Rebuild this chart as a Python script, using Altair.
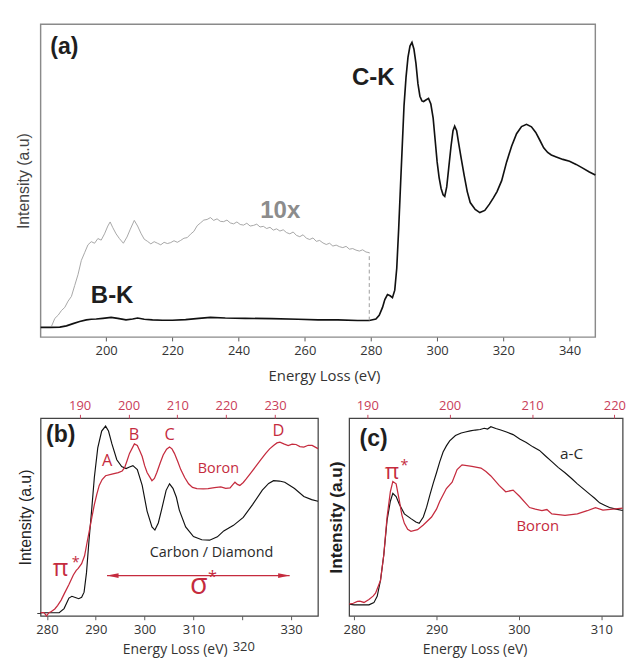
import altair as alt
import pandas as pd

# ---------------- panel (a): survey spectrum ----------------
A_XDOM = [180.2, 347.8]
A_TICKS = [200, 220, 240, 260, 280, 300, 320, 340]
A_E = [180.2, 183, 186, 188, 190, 192, 194, 195.5, 197, 199, 201.5, 203.5, 206, 208, 209.5,
       211.5, 214, 217, 220, 224, 228, 231.5, 236, 242, 250, 258, 264, 270, 276, 279.5,
       281.5, 282.5, 283.5, 284.2, 285, 285.8, 286.5, 287.2, 287.8, 288.4, 289, 289.5, 290,
       290.6, 291.2, 291.8, 292.4, 293, 293.6, 294.2, 294.8, 295.4, 295.9, 296.6, 297.4,
       298.1, 298.8, 299.4, 300, 300.6, 301.2, 301.8, 302.3, 302.9, 303.5, 304.2, 304.8,
       305.3, 305.9, 306.5, 307.3, 308.2, 309.1, 310, 311.5, 312.9, 314.4, 315.8, 317, 318.1,
       319.5, 321, 322.5, 324, 325.5, 327, 328.5, 329.8, 331, 332.2, 333.4, 334.5, 336, 338,
       340, 342, 344, 346, 347.8]
A_I = [3.1, 3.1, 3.2, 3.6, 4.3, 5.0, 5.5, 5.7, 5.8, 6.0, 6.3, 6.0, 5.5, 5.8, 6.1,
       5.7, 5.5, 5.4, 5.4, 5.6, 6.0, 6.3, 6.1, 6.0, 5.9, 5.7, 5.5, 5.5, 5.3, 5.3,
       5.8, 7.0, 9.5, 12.0, 13.6, 13.2, 12.6, 15, 22, 35, 50, 62, 74,
       83, 89.5, 93, 94.2, 92, 87.5, 81, 77, 75.5, 75.3, 75.8, 76.3,
       74.5, 70, 63, 56, 51, 47.5, 45.5, 45, 48, 54, 61, 66,
       67.4, 66, 62, 57, 51.5, 46.5, 43, 40.8, 39.8, 40.5, 42.5, 44.5, 46.5,
       50, 56, 61, 65, 67.3, 68, 67.2, 65.4, 63, 60.5, 59, 58.2, 57.6, 56.8,
       56.2, 55.2, 54, 52.8, 51.8]
G_E = [183.5, 184.5, 185.5, 186.5, 187.5, 188.5, 189.5, 190.5, 191.5, 192.5, 193.5, 194.5,
       195.5, 196.5, 197.5, 198.5, 199.5, 200.5, 201.2, 202, 203, 204, 205.2, 206.3, 207.3,
       208.5, 209.5, 210.5, 211.5, 212.5, 213.5, 214.5, 215.5, 216.5, 217.5, 218.5, 219.5,
       220.5, 221.5, 222.5, 223.5, 224.5, 225.5, 226.5, 227.5, 228.5, 229.5, 230.5, 231.5,
       232.5, 233.5, 234.5, 235.5, 236.5, 237.5, 238.5, 239.5, 240.5, 241.5, 242.5, 243.5,
       244.5, 245.5, 246.5, 247.5, 248.5, 249.5, 250.5, 251.5, 252.5, 253.5, 254.5, 255.5,
       256.5, 257.5, 258.5, 259.5, 260.5, 261.5, 262.5, 263.5, 264.5, 265.5, 266.5, 267.5,
       268.5, 269.5, 270.5, 271.5, 272.5, 273.5, 274.5, 275.5, 276.5, 277.5, 278.5, 279.5]
G_I = [3.5, 6.0, 7.0, 8.5, 9.5, 11.5, 13.0, 16.5, 20.0, 24.5, 27.0, 29.5,
       30.5, 30.0, 31.5, 31.0, 33.0, 35.5, 36.8, 35.0, 33.0, 31.5, 30.0, 32.0, 34.5,
       37.3, 35.5, 33.2, 31.3, 30.6, 29.8, 30.5, 30.0, 29.5, 30.3, 29.9, 30.2,
       30.8, 30.3, 30.9, 31.6, 31.8, 32.9, 33.8, 35.6, 36.5, 37.4, 37.6, 38.2,
       37.3, 37.8, 37.0, 36.9, 37.4, 36.5, 36.2, 36.8, 36.0, 35.8, 36.4, 35.5,
       35.7, 36.1, 35.2, 35.4, 34.7, 35.1, 34.2, 34.6, 33.9, 34.3, 33.4, 33.0,
       33.6, 32.5, 32.1, 32.7, 31.6, 31.2, 31.7, 30.6, 30.9, 30.1, 29.6, 30.0,
       29.1, 29.4, 28.9, 28.6, 29.0, 28.1, 28.3, 27.8, 27.5, 27.9, 27.2, 27.0]
A_CUT_X = [279.5]
A_CUT_LO = [5.3]
A_CUT_HI = [27.0]

# ---------------- panel (b): diamond vs boron ----------------
B_XDOM = [278.7, 335.5]
B_TOPDOM = [182.0, 238.8]
B_TICKS = [280, 290, 300, 310, 320, 330]
B_TOP_TICKS = [190, 200, 210, 220, 230]
BC_E = [278.7, 282.5, 283.5, 284.5, 285.1, 285.8, 286.5, 287.1, 287.6, 288.1, 288.6, 289.2,
        289.7, 290.4, 291.2, 292.0, 292.6, 293.3, 294.3, 295.3, 296.2, 296.9, 297.6, 298.5,
        299.5, 300.5, 301.5, 302.1, 302.8, 303.5, 304.4, 305.1, 305.8, 306.5, 307.1, 308.4,
        310.0, 311.7, 313.3, 314.9, 316.2, 318.2, 320.2, 322.1, 324.1, 325.4, 326.4, 327.6,
        328.7, 330.7, 332.6, 334.2, 335.5]
BC_I = [1.6, 1.6, 3.7, 9.0, 9.9, 9.3, 8.7, 9.4, 12.0, 22, 38, 55,
        70, 85, 93.5, 96, 93.5, 87, 79, 75.5, 74.5, 75.3, 76, 74,
        66, 53, 45, 43.4, 47, 54, 63.5, 66.8, 64.5, 60, 53.5, 45,
        40.1, 38.5, 38.3, 40, 43, 45.8, 49.8, 56.3, 63.6, 67, 68.4, 68.2,
        67.6, 64.4, 60.4, 58.8, 58.0]
BB_E = [182.0, 182.7, 183.2, 183.7, 184.2, 184.9, 185.5, 186.2, 186.8, 187.8, 188.7, 189.3,
        189.7, 190.4, 191.0, 191.5, 192.0, 192.5, 193.0, 193.5, 194.0, 194.6, 195.3, 196.6,
        197.9, 198.7, 199.2, 199.7, 200.2, 201.2, 201.8, 202.3, 202.8, 203.3, 203.8, 204.8,
        205.3, 205.8, 206.5, 207.1, 207.8, 208.4, 208.9, 209.4, 210.1, 210.7, 211.5, 212.3,
        213.1, 214.0, 215.3, 216.3, 217.6, 218.9, 219.9, 220.8, 221.4, 221.8, 222.3, 222.8,
        223.5, 224.1, 225.1, 226.1, 227.1, 228.1, 228.9, 229.7, 230.4, 231.0, 231.8, 232.7,
        233.5, 234.3, 235.1, 235.9, 236.8, 237.6, 238.8]
BB_I = [1.6, 1.6, 0.0, 1.6, 2.2, 3.5, 5.3, 8.0, 11, 15.9, 20.7, 23.0,
        24, 26.4, 30.4, 37, 43.4, 50, 56.3, 61.5, 66, 69, 70.9, 71.7,
        72.5, 73.3, 75, 78.5, 82.2, 87, 86.2, 83.5, 80.6, 76, 72.5, 68.4,
        69.5, 72.5, 77.5, 81.4, 84.3, 85.4, 84.5, 82.2, 78, 74, 70, 66.8,
        65, 64.4, 64.2, 64.4, 64.9, 65.2, 64.5, 64.7, 66.5, 67.6, 66.5, 66,
        67.5, 69.3, 72.5, 75.7, 79, 82.2, 84.5, 86.2, 87.5, 87.9, 87.0, 86.2,
        86.9, 86.7, 85.6, 85.4, 86.3, 86.2, 84.6]

# ---------------- panel (c): a-C vs boron ----------------
C_XDOM = [279.4, 312.6]
C_TOPDOM = [187.8, 221.0]
C_TICKS = [280, 290, 300, 310]
C_TOP_TICKS = [190, 200, 210, 220]
CC_E = [279.4, 280.0, 281.0, 281.8, 282.4, 282.8, 283.2, 283.6, 284.0, 284.4, 284.7, 285.1,
        285.5, 286.1, 286.9, 287.5, 287.9, 288.4, 288.8, 289.2, 289.6, 290.0, 290.4, 290.8,
        291.2, 291.6, 292.3, 293.0, 293.5, 294.1, 294.7, 295.3, 295.8, 296.2, 296.6, 297.2,
        297.8, 298.5, 299.3, 300.1, 300.9, 301.7, 302.5, 303.2, 304.0, 304.8, 305.6, 306.4,
        307.1, 307.9, 308.7, 309.2, 309.8, 310.4, 311.0, 311.8, 312.6]
CC_I = [5.9, 5.6, 5.6, 5.6, 6.7, 9.9, 17.9, 30.8, 48.4, 58, 62, 60.4,
        56.4, 51.6, 49.2, 47.5, 46.8, 50, 55, 61.2, 67, 72.4, 78, 82.9,
        86, 88.5, 91.2, 92.5, 93.0, 93.6, 94.0, 94.3, 94.9, 94.5, 95.7, 94.8,
        94.0, 93.0, 91.7, 89.5, 87.7, 85.5, 83.7, 81, 78, 75, 72.4, 69.5,
        66.8, 64, 61.2, 59.5, 57.2, 56, 54.8, 54, 53.3]
CB_E = [187.8, 188.3, 188.8, 189.1, 189.6, 190.2, 190.7, 191.0, 191.6, 192.0, 192.4, 192.8,
        193.1, 193.5, 193.9, 194.2, 194.5, 194.9, 195.3, 196.1, 196.8, 197.8, 198.4, 198.8,
        199.6, 200.3, 200.9, 201.5, 202.7, 203.8, 204.4, 205.0, 206.0, 206.8, 207.7, 208.5,
        209.7, 210.4, 211.2, 211.8, 212.4, 214.0, 215.5, 216.7, 217.7, 218.6, 219.8, 221.0]
CB_I = [5.9, 6.4, 7.3, 7.5, 6.8, 8.3, 10, 11.5, 17.9, 30.8, 50, 62.8,
        68, 66.8, 58, 51, 46.8, 43.8, 42.8, 43.6, 46, 50, 54, 58,
        64.4, 67.6, 74, 76.4, 75.6, 74.8, 73, 70.8, 66, 62.8, 63.6, 60.4,
        54.8, 54.0, 53.2, 53.8, 51.6, 50.8, 51.6, 53.2, 54.8, 53.5, 54, 54.5]

Y_DOM = [0, 100]

AX_FONT = "Open Sans"
LB_FONT = "Liberation Sans"
RED = "#c52b3e"
TOPRED = "#c9405a"
INK = "#1e1e1e"
GRAY = "#9a9a9a"


def X(scale, axis):
    return alt.X("x:Q", scale=scale, axis=axis)


def Y(scale, axis):
    return alt.Y("y:Q", scale=scale, axis=axis)


def line(xs, ys, color, width, xe, ye):
    df = pd.DataFrame({"x": xs, "y": ys})
    return alt.Chart(df).mark_line(color=color, strokeWidth=width).encode(x=xe, y=ye)


def text(labels, xs, ys, xe, ye, **kw):
    df = pd.DataFrame({"x": xs, "y": ys, "t": labels})
    return alt.Chart(df).mark_text(**kw).encode(x=xe, y=ye, text="t:N")


def bottom_axis(values, title_x, title_size, title_pad, label_expr=None):
    kw = dict(values=values, title="Energy Loss (eV)", grid=False, domain=False,
              tickSize=4, tickColor="#555555", tickWidth=1,
              labelFont=AX_FONT, labelFontSize=13.5, labelColor="#333333", labelPadding=3,
              labelFlush=False, labelOverlap=False,
              titleFont=AX_FONT, titleFontSize=title_size, titleFontWeight="normal",
              titleColor="#333333", titlePadding=title_pad, titleX=title_x, titleAlign="center")
    if label_expr:
        kw["labelExpr"] = label_expr
    return alt.Axis(**kw)


def top_axis(values):
    return alt.Axis(orient="top", values=values, title=None, grid=False, domain=False,
                    tickSize=4, tickColor=TOPRED, tickWidth=1,
                    labelFont=AX_FONT, labelFontSize=13.5, labelColor=TOPRED, labelPadding=2,
                    labelFlush=False, labelOverlap=False)


y_scale = alt.Scale(domain=Y_DOM, nice=False, zero=False)

# ---------- (a) ----------
xa = X(alt.Scale(domain=A_XDOM, nice=False, zero=False),
       bottom_axis(A_TICKS, 295.3, 15.5, 13))
ya = Y(y_scale, alt.Axis(title="Intensity (a.u)", grid=False, labels=False, ticks=False,
                         domain=True, domainOpacity=0, offset=32.2,
                         titleX=14.5, titleY=163, titleAngle=270, titleAlign="center",
                         titleBaseline="middle", titleFont=LB_FONT, titleFontSize=16.5,
                         titleFontWeight="normal", titleColor="#444444"))
a_gray = line(G_E, G_I, GRAY, 0.9, xa, ya)
a_black = line(A_E, A_I, "#111111", 1.7, xa, ya)
a_cut = alt.Chart(pd.DataFrame({"x": A_CUT_X, "y": A_CUT_LO, "y2": A_CUT_HI})).mark_rule(
    color=GRAY, strokeDash=[4, 3], strokeWidth=1).encode(x=xa, y=ya, y2="y2:Q")
a_tag = text(["(a)"], [183.1], [92.6], xa, ya, font=LB_FONT, fontSize=24, fontWeight="bold",
             color=INK, align="left", baseline="middle")
a_edges = text(["C-K", "B-K"], [280.7, 201.8], [82.9, 13.5], xa, ya, font=LB_FONT, fontSize=25,
               fontWeight="bold", color=INK, align="center", baseline="middle")
a_10x = text(["10x"], [252.6], [40.5], xa, ya, font=LB_FONT, fontSize=25, fontWeight="bold",
             color="#8c8c8c", align="center", baseline="middle")
panel_a = alt.layer(a_gray, a_black, a_cut, a_tag, a_edges, a_10x).properties(
    width=578, height=326, view=alt.ViewBackground(stroke="#8a8a8a", strokeWidth=1.5))

# ---------- (b) ----------
xb = X(alt.Scale(domain=B_XDOM, nice=False, zero=False),
       bottom_axis(B_TICKS, 139.7, 14.5, 8, "datum.value == 320 ? '' : datum.label"))
yb = Y(y_scale, alt.Axis(values=[1.6], title="Intensity (a.u)", grid=False, labels=False,
                         ticks=True, tickSize=4, tickColor="#333333", domain=False,
                         titleX=-15.3, titleY=103, titleAngle=270, titleAlign="center",
                         titleBaseline="middle", titleFont=LB_FONT, titleFontSize=16.5,
                         titleFontWeight="normal", titleColor="#222222"))
xbt = X(alt.Scale(domain=B_TOPDOM, nice=False, zero=False), top_axis(B_TOP_TICKS))

b_black = line(BC_E, BC_I, "#111111", 1.2, xb, yb)
b_tag = text(["(b)"], [279.8], [91.6], xb, yb, font=LB_FONT, fontSize=24, fontWeight="bold",
             color=INK, align="left", baseline="middle")
b_letters = text(["A", "B", "C", "D"], [292.3, 297.8, 305.1, 327.4], [78.2, 91.6, 91.6, 93.2],
                 xb, yb, font=AX_FONT, fontSize=17, color=RED, align="center", baseline="middle")
b_boron = text(["Boron"], [315.1], [74.6], xb, yb, font=AX_FONT, fontSize=15, color=RED,
               align="center", baseline="middle")
b_carbon = text(["Carbon / Diamond"], [313.7], [32.4], xb, yb, font=AX_FONT, fontSize=15,
                color="#2a2a2a", align="center", baseline="middle")
b_pi = text(["\u03c0"], [282.8], [24.0], xb, yb, font=AX_FONT, fontSize=25, color=RED,
            align="center", baseline="middle")
b_pistar = text(["*"], [285.9], [27.1], xb, yb, font=AX_FONT, fontSize=15, color=RED,
                align="center", baseline="middle")
b_sigma = text(["\u03c3"], [311.1], [15.5], xb, yb, font=AX_FONT, fontSize=30, color=RED,
               align="center", baseline="middle")
b_sigstar = text(["*"], [313.9], [19.5], xb, yb, font=AX_FONT, fontSize=17, color=RED,
                 align="center", baseline="middle")
b_320 = text(["320"], [320.3], [-16.0], xb, yb, font=AX_FONT, fontSize=13.5, color="#333333",
             align="center", baseline="middle")
b_arrow = alt.Chart(pd.DataFrame({"x": [292.3], "x2": [329.7], "y": [20.4]})).mark_rule(
    color=RED, strokeWidth=1.3).encode(x=xb, x2="x2:Q", y=yb)
b_head_l = alt.Chart(pd.DataFrame({"x": [292.3], "y": [20.4]})).mark_point(
    shape="M0,0L2,-0.42L2,0.42Z", size=144, filled=True, color=RED, opacity=1,
    strokeWidth=0).encode(x=xb, y=yb)
b_head_r = alt.Chart(pd.DataFrame({"x": [329.7], "y": [20.4]})).mark_point(
    shape="M0,0L-2,-0.42L-2,0.42Z", size=144, filled=True, color=RED, opacity=1,
    strokeWidth=0).encode(x=xb, y=yb)
b_base = alt.layer(b_black, b_arrow, b_head_l, b_head_r, b_tag, b_letters, b_boron, b_carbon,
                   b_pi, b_pistar, b_sigma, b_sigstar, b_320)
b_red = line(BB_E, BB_I, RED, 1.3, xbt, yb)
panel_b = alt.layer(b_base, b_red).resolve_scale(x="independent").properties(
    width=289, height=206)

# ---------- (c) ----------
xc = X(alt.Scale(domain=C_XDOM, nice=False, zero=False), bottom_axis(C_TICKS, 130.7, 14.5, 8))
yc = Y(y_scale, alt.Axis(title="Intensity (a.u)", grid=False, labels=False, ticks=False,
                         domain=False, titleX=-12.6, titleY=103, titleAngle=270,
                         titleAlign="center", titleBaseline="middle", titleFont=LB_FONT,
                         titleFontSize=18, titleFontWeight="bold", titleColor="#1e1e1e"))
xct = X(alt.Scale(domain=C_TOPDOM, nice=False, zero=False), top_axis(C_TOP_TICKS))

c_black = line(CC_E, CC_I, "#111111", 1.2, xc, yc)
c_tag = text(["(c)"], [280.66], [89.3], xc, yc, font=LB_FONT, fontSize=24, fontWeight="bold",
             color=INK, align="left", baseline="middle")
c_pi = text(["\u03c0"], [284.6], [72.4], xc, yc, font=AX_FONT, fontSize=23, color=RED,
            align="center", baseline="middle")
c_pistar = text(["*"], [286.1], [76.3], xc, yc, font=AX_FONT, fontSize=15, color=RED,
                align="center", baseline="middle")
c_ac = text(["a-C"], [306.4], [82.0], xc, yc, font=AX_FONT, fontSize=16, color="#2a2a2a",
            align="center", baseline="middle")
c_boron = text(["Boron"], [302.3], [45.2], xc, yc, font=AX_FONT, fontSize=15.5, color=RED,
               align="center", baseline="middle")
c_base = alt.layer(c_black, c_tag, c_pi, c_pistar, c_ac, c_boron)
c_red = line(CB_E, CB_I, RED, 1.3, xct, yc)
panel_c = alt.layer(c_base, c_red).resolve_scale(x="independent").properties(
    width=285, height=206)

row2 = alt.hconcat(panel_b, panel_c, spacing=5.5)

chart = alt.concat(panel_a, row2, columns=1, align="none", spacing=13.5).properties(
    padding={"left": 1, "top": 2, "right": 0, "bottom": 0}
).configure(font=AX_FONT).configure_view(stroke="#444444", strokeWidth=1.3)

chart.save("out.html", embed_options={"renderer": "svg", "actions": False})
